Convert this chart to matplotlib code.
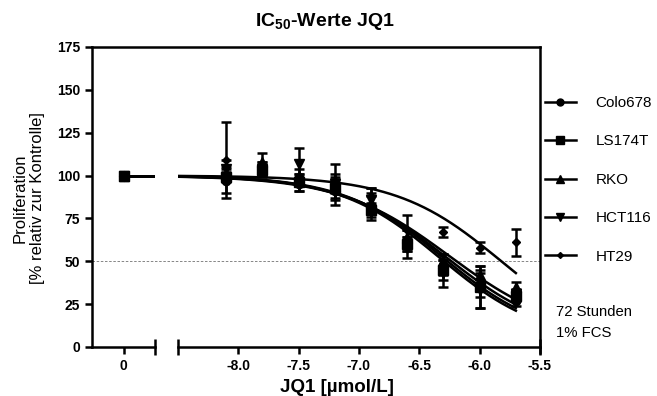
import numpy as np
import matplotlib
matplotlib.use("Agg")
import matplotlib.pyplot as plt
from matplotlib.lines import Line2D

plt.rcParams['font.family'] = ['Liberation Sans', 'DejaVu Sans']
plt.rcParams['mathtext.fontset'] = 'custom'
plt.rcParams['mathtext.rm'] = 'Liberation Sans'
plt.rcParams['mathtext.bf'] = 'Liberation Sans:bold'
plt.rcParams['axes.unicode_minus'] = False

## Data (log10 of JQ1 concentration in mol/L)
log_conc = [-8.1, -7.8, -7.5, -7.2, -6.9, -6.6, -6.3, -6.0, -5.7]
control_x = 0
control_val = 100

cell_lines = ['Colo678', 'LS174T', 'RKO', 'HCT116', 'HT29']
markers = ['o', 's', '^', 'v', 'D']
marker_sizes = [6, 6.5, 6.5, 6.5, 4]

colo678_mean = [97, 102, 95, 91, 82, 62, 48, 37, 27]
colo678_sd = [7, 3, 4, 5, 8, 6, 6, 8, 3]
ls174t_mean = [99, 103, 96, 93, 80, 60, 45, 35, 30]
ls174t_sd = [3, 3, 5, 6, 4, 4, 6, 12, 3]
rko_mean = [101, 108, 98, 94, 84, 64, 50, 42, 35]
rko_sd = [4, 5, 3, 4, 4, 4, 4, 5, 3]
hct116_mean = [104, 104, 107, 95, 86, 58, 43, 33, 31]
hct116_sd = [5, 4, 9, 12, 7, 6, 8, 10, 3]
ht29_mean = [109, 105, 100, 97, 88, 68, 67, 58, 61]
ht29_sd = [22, 3, 4, 4, 5, 9, 3, 3, 8]

means = [colo678_mean, ls174t_mean, rko_mean, hct116_mean, ht29_mean]
sds = [colo678_sd, ls174t_sd, rko_sd, hct116_sd, ht29_sd]

# fitted dose-response parameters (top, bottom, logIC50, hill slope)
fit_top = [100, 100, 100, 100, 100]
fit_bottom = [5, 5, 6, 4, 0]
fit_logic50 = [-6.28, -6.31, -6.25, -6.33, -5.82]
fit_hill = [1.0, 1.05, 0.95, 1.05, 1.0]

## Layout
W, H = 657, 396
fig = plt.figure(figsize=(W / 100, H / 100), dpi=100)
x0, x1, y0, y1 = 92, 540, 47, 347
seg_l_end, seg_r_start = 155, 178
bot = (H - y1) / H
hgt = (y1 - y0) / H

lw = 1.8
frame = fig.add_axes([x0 / W, bot, (x1 - x0) / W, hgt])
ax_l = fig.add_axes([x0 / W, bot, (seg_l_end - x0) / W, hgt])
ax_r = fig.add_axes([seg_r_start / W, bot, (x1 - seg_r_start) / W, hgt])

for ax in (frame, ax_l, ax_r):
    ax.set_ylim(0, 175)
    ax.patch.set_visible(False)
    for s in ax.spines.values():
        s.set_linewidth(lw)
        s.set_visible(False)
    ax.tick_params(width=lw, length=5, labelsize=10)

frame.spines['top'].set_visible(True)
frame.spines['right'].set_visible(True)
frame.set_xticks([])
frame.set_yticks([])
frame.set_xlim(0, 1)
frame.axhline(50, color='0.45', lw=0.6, ls=(0, (3, 2)))

ax_l.spines['left'].set_visible(True)
ax_l.spines['bottom'].set_visible(True)
ax_l.set_xlim(-1, 1)
ax_l.set_yticks(np.arange(0, 176, 25))
ax_l.set_yticklabels([str(v) for v in range(0, 176, 25)], fontweight='bold')
ax_l.set_xticks([0])
ax_l.set_xticklabels(['0'], fontweight='bold')
ax_l.plot([1], [0], marker='|', color='k', ms=11, mew=lw, clip_on=False)

ax_r.spines['bottom'].set_visible(True)
ax_r.set_xlim(-8.5, -5.5)
xt = [-8.0, -7.5, -7.0, -6.5, -6.0, -5.5]
ax_r.set_xticks(xt)
ax_r.set_xticklabels(['%.1f' % v for v in xt], fontweight='bold')
ax_r.set_yticks([])
ax_r.plot([-8.5, -5.5], [0, 0], ls='none', marker='|', color='k', ms=11, mew=lw, clip_on=False)

xs = np.linspace(-8.5, log_conc[-1], 200)
for i in range(len(cell_lines)):
    m = markers[i]
    ms = marker_sizes[i]
    ax_r.errorbar(log_conc, means[i], yerr=sds[i], fmt=m, color='k', ms=ms,
                  elinewidth=lw, capsize=3.5, capthick=lw, zorder=3)
    curve = fit_bottom[i] + (fit_top[i] - fit_bottom[i]) / (1 + 10 ** ((xs - fit_logic50[i]) * fit_hill[i]))
    ax_r.plot(xs, curve, color='k', lw=lw, zorder=2)
    ax_l.plot([control_x, 1], [fit_top[i], fit_top[i]], color='k', lw=lw)

# control point, drawn in the order of the series (square last)
order = [0, 2, 3, 4, 1]
for i in order:
    ax_l.plot(control_x, control_val, marker=markers[i], color='k', ms=marker_sizes[i] + 1, ls='none', zorder=3)

## Texts
fig.text(325 / W, 1 - 22 / H, r'IC$_\mathbf{50}$-Werte JQ1', ha='center', va='center',
         fontsize=14, fontweight='bold')
fig.text(337 / W, 1 - 379 / H, 'JQ1 [µmol/L]', ha='center', va='top', fontsize=13.5, fontweight='bold')
fig.text(29 / W, 1 - 198 / H, 'Proliferation\n[% relativ zur Kontrolle]', ha='center', va='center',
         rotation=90, fontsize=12, linespacing=1.2)
fig.text(556 / W, 1 - 312 / H, '72 Stunden', va='center', fontsize=10.7)
fig.text(556 / W, 1 - 333 / H, '1% FCS', va='center', fontsize=10.7)

handles = [Line2D([], [], color='k', lw=lw, marker=markers[i], ms=marker_sizes[i] - 1)
           for i in range(len(cell_lines))]
fig.legend(handles, cell_lines, loc='upper left', bbox_to_anchor=(545 / W, 1 - 96 / H),
           frameon=False, fontsize=11, handlelength=2.0, handletextpad=1.3,
           labelspacing=1.6, borderpad=0, borderaxespad=0)

fig.savefig('out.png', dpi=100)
